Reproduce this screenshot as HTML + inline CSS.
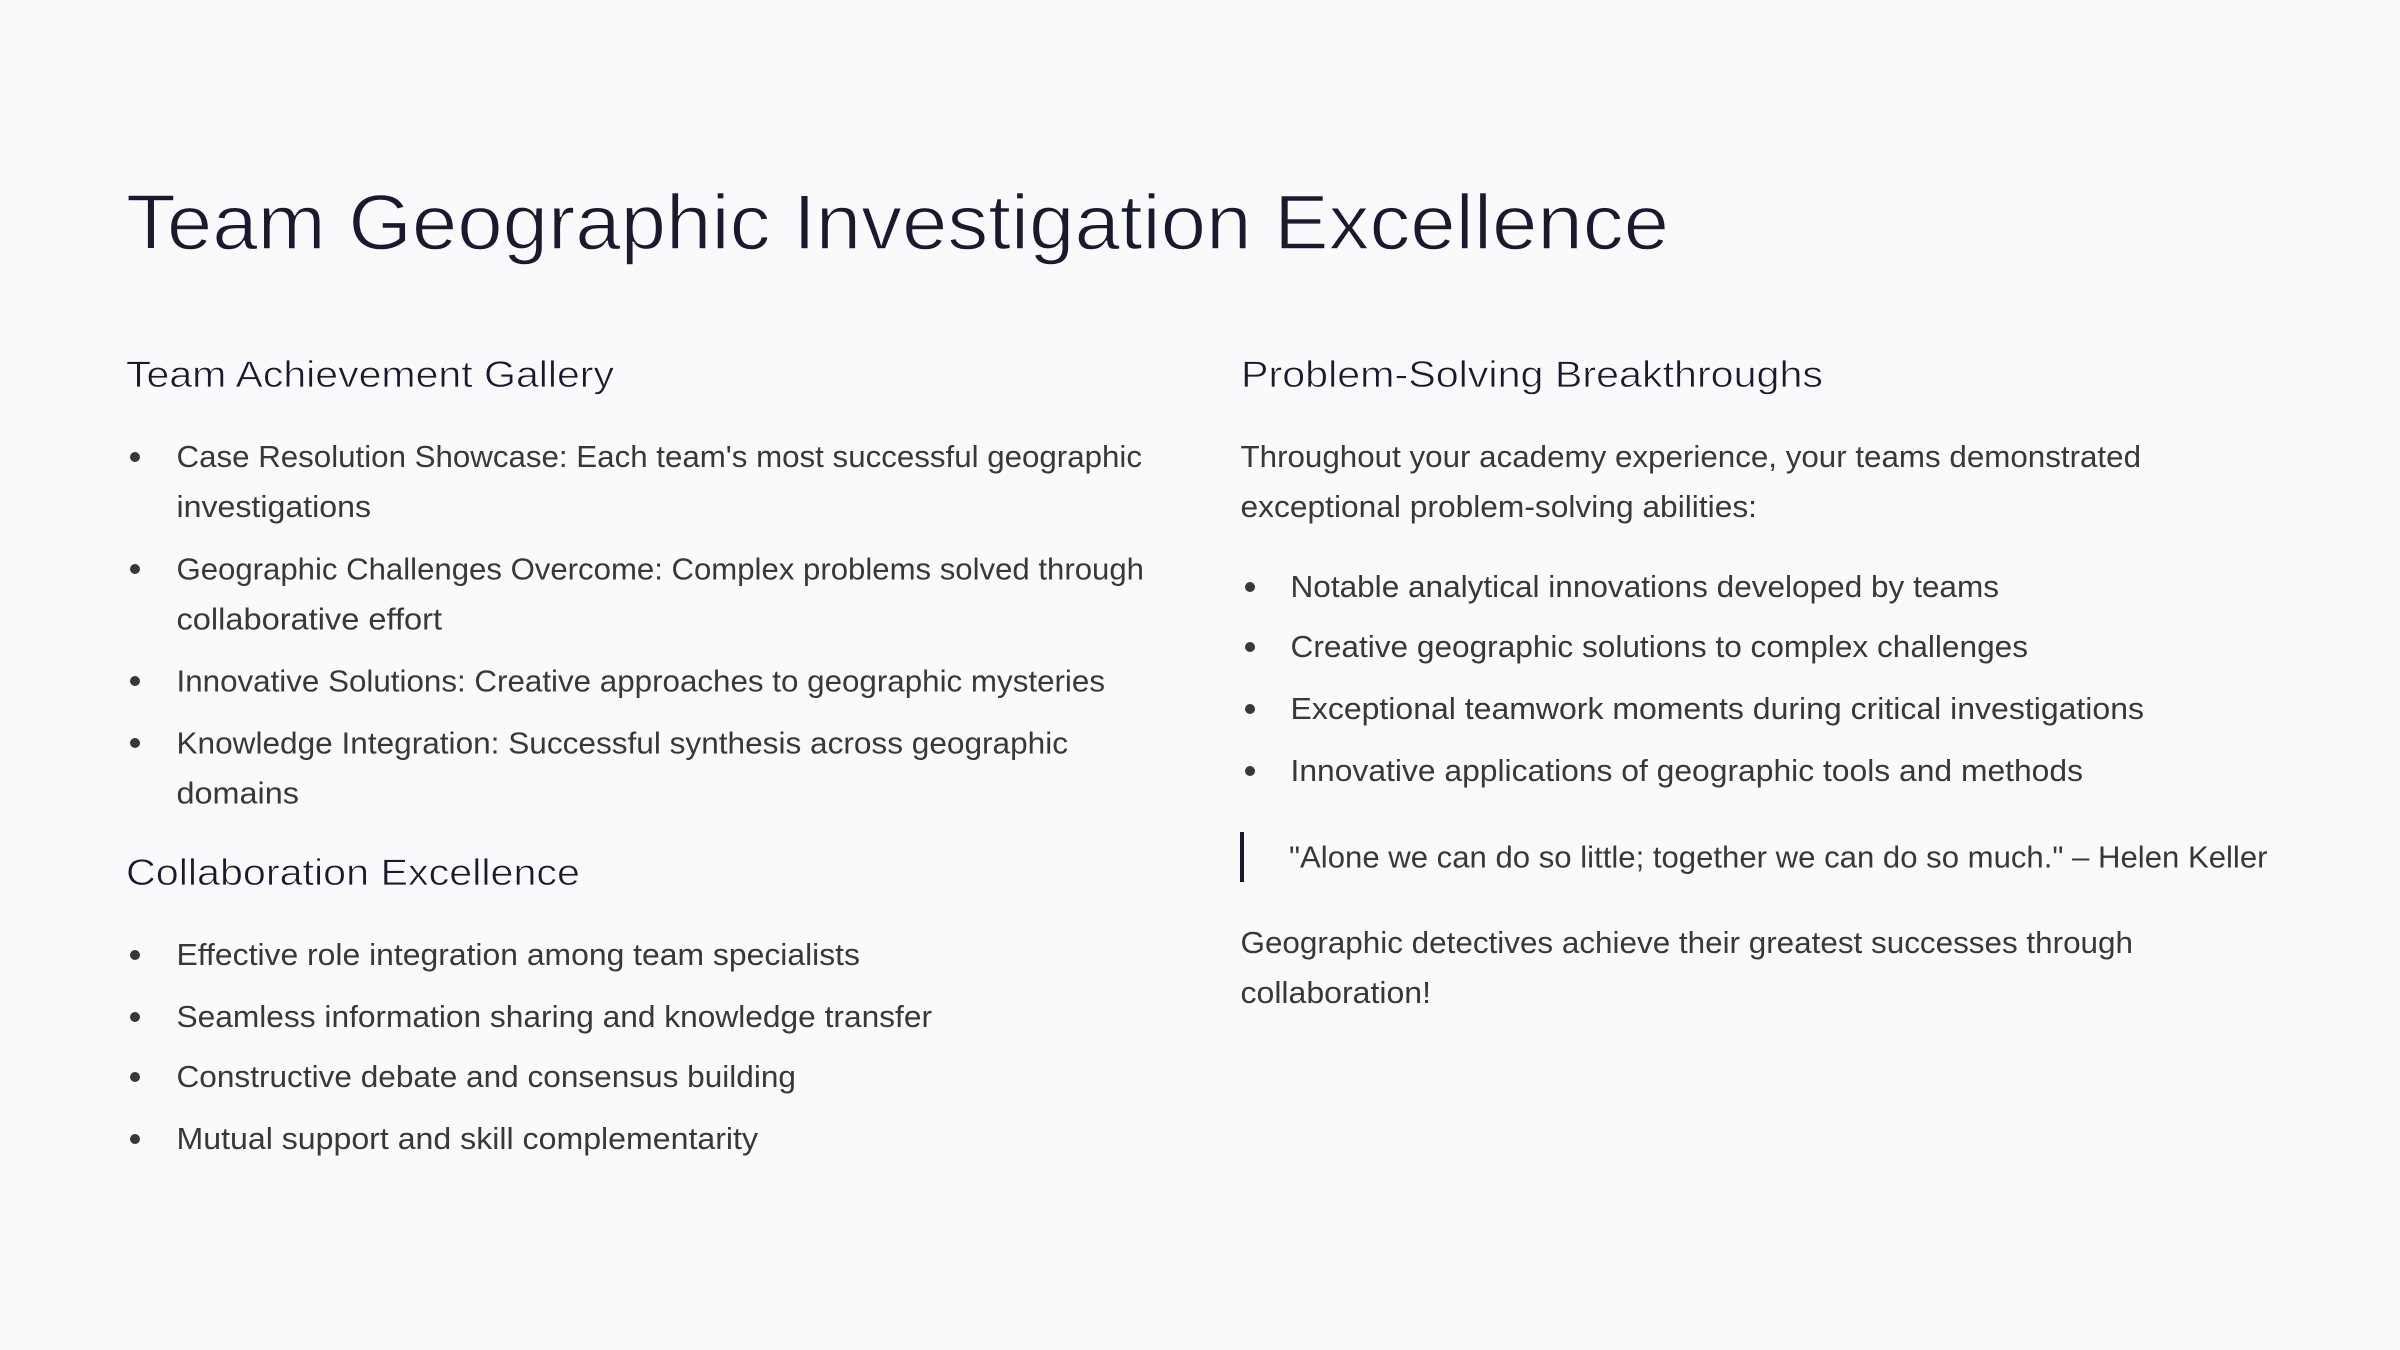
<!DOCTYPE html>
<html lang="en">
<head>
<meta charset="utf-8">
<title>Team Geographic Investigation Excellence</title>
<style>
html,body{margin:0;padding:0;width:2400px;height:1350px;background:#fafafd;overflow:hidden}
svg{display:block}
text{font-family:"Liberation Sans",sans-serif}
.title{font-size:78px;fill:#1a1a2e;stroke:#fafafd;stroke-width:1.4px}
.h{font-size:37px;fill:#1a1a2e;stroke:#fafafd;stroke-width:.7px}
.b{font-size:31px;fill:#383838}
.dot{fill:#383838}
</style>
</head>
<body>
<svg width="2400" height="1350" viewBox="0 0 2400 1350" xmlns="http://www.w3.org/2000/svg">
<rect width="2400" height="1350" fill="#fafafd"/>
<text class="title" x="126" y="249" textLength="1543" lengthAdjust="spacingAndGlyphs">Team Geographic Investigation Excellence</text>

<text class="h" x="126" y="387" textLength="488" lengthAdjust="spacingAndGlyphs">Team Achievement Gallery</text>
<circle class="dot" cx="135" cy="457" r="5"/>
<text class="b" x="176.5" y="467" textLength="965.5" lengthAdjust="spacingAndGlyphs">Case Resolution Showcase: Each team's most successful geographic</text>
<text class="b" x="176.5" y="517" textLength="194.5" lengthAdjust="spacingAndGlyphs">investigations</text>
<circle class="dot" cx="135" cy="569" r="5"/>
<text class="b" x="176.5" y="579.5" textLength="967.5" lengthAdjust="spacingAndGlyphs">Geographic Challenges Overcome: Complex problems solved through</text>
<text class="b" x="176.5" y="629.5" textLength="265.5" lengthAdjust="spacingAndGlyphs">collaborative effort</text>
<circle class="dot" cx="135" cy="681" r="5"/>
<text class="b" x="176.5" y="691.3" textLength="928.5" lengthAdjust="spacingAndGlyphs">Innovative Solutions: Creative approaches to geographic mysteries</text>
<circle class="dot" cx="135" cy="743" r="5"/>
<text class="b" x="176.5" y="753.3" textLength="891.5" lengthAdjust="spacingAndGlyphs">Knowledge Integration: Successful synthesis across geographic</text>
<text class="b" x="176.5" y="803.3" textLength="122.5" lengthAdjust="spacingAndGlyphs">domains</text>

<text class="h" x="126" y="885" textLength="454" lengthAdjust="spacingAndGlyphs">Collaboration Excellence</text>
<circle class="dot" cx="135" cy="955" r="5"/>
<text class="b" x="176.5" y="965" textLength="683.5" lengthAdjust="spacingAndGlyphs">Effective role integration among team specialists</text>
<circle class="dot" cx="135" cy="1017" r="5"/>
<text class="b" x="176.5" y="1027" textLength="755.5" lengthAdjust="spacingAndGlyphs">Seamless information sharing and knowledge transfer</text>
<circle class="dot" cx="135" cy="1077" r="5"/>
<text class="b" x="176.5" y="1087" textLength="619.5" lengthAdjust="spacingAndGlyphs">Constructive debate and consensus building</text>
<circle class="dot" cx="135" cy="1139" r="5"/>
<text class="b" x="176.5" y="1149" textLength="581.5" lengthAdjust="spacingAndGlyphs">Mutual support and skill complementarity</text>

<text class="h" x="1241" y="387" textLength="582" lengthAdjust="spacingAndGlyphs">Problem-Solving Breakthroughs</text>
<text class="b" x="1240.5" y="467" textLength="900.5" lengthAdjust="spacingAndGlyphs">Throughout your academy experience, your teams demonstrated</text>
<text class="b" x="1240.5" y="517" textLength="516.5" lengthAdjust="spacingAndGlyphs">exceptional problem-solving abilities:</text>
<circle class="dot" cx="1250" cy="587" r="5"/>
<text class="b" x="1290.5" y="597" textLength="708.5" lengthAdjust="spacingAndGlyphs">Notable analytical innovations developed by teams</text>
<circle class="dot" cx="1250" cy="647" r="5"/>
<text class="b" x="1290.5" y="657" textLength="737.5" lengthAdjust="spacingAndGlyphs">Creative geographic solutions to complex challenges</text>
<circle class="dot" cx="1250" cy="709" r="5"/>
<text class="b" x="1290.5" y="719" textLength="853.5" lengthAdjust="spacingAndGlyphs">Exceptional teamwork moments during critical investigations</text>
<circle class="dot" cx="1250" cy="771" r="5"/>
<text class="b" x="1290.5" y="781" textLength="792.5" lengthAdjust="spacingAndGlyphs">Innovative applications of geographic tools and methods</text>
<rect x="1240" y="832" width="4" height="50" fill="#1a1a2e"/>
<text class="b" x="1289" y="867.5" textLength="978.5" lengthAdjust="spacingAndGlyphs">"Alone we can do so little; together we can do so much." – Helen Keller</text>
<text class="b" x="1240.5" y="953" textLength="892.5" lengthAdjust="spacingAndGlyphs">Geographic detectives achieve their greatest successes through</text>
<text class="b" x="1240.5" y="1003" textLength="190.5" lengthAdjust="spacingAndGlyphs">collaboration!</text>
</svg>
</body>
</html>
